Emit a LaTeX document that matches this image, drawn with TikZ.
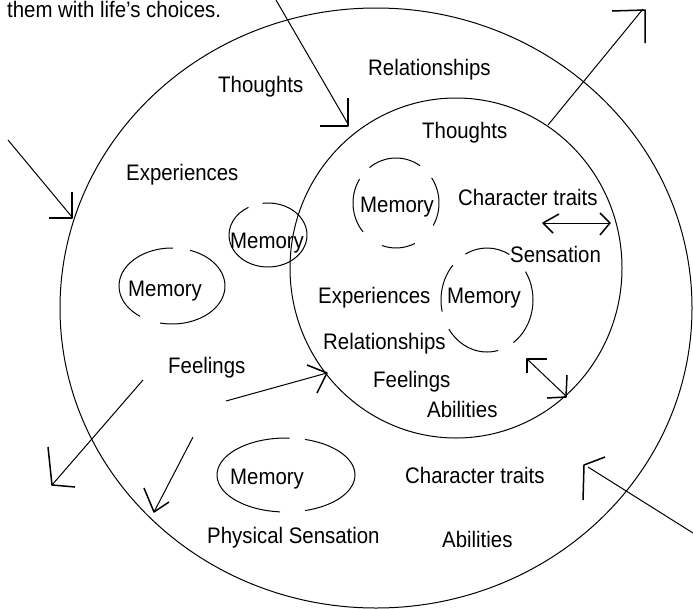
\documentclass[tikz,border=0pt]{standalone}
\usepackage{fontspec}
\setmainfont{Liberation Sans}
\newcommand\lbl[1]{\scalebox{1}[1.1]{#1}}
\begin{document}
\begin{tikzpicture}[x=1pt,y=-1pt,
  line join=round,
  ring/.style={draw=black,line width=1pt},
  memo/.style={draw=black,line width=1pt},
  shaft/.style={draw=black,line width=1pt},
  head/.style={draw=black,line width=1.5pt},
  txt/.style={inner sep=0pt,anchor=base west,font=\fontsize{20.4}{22}\selectfont}]
\useasboundingbox[fill=white] (0,0) rectangle (693,608);

% the two nested rings
\coordinate (outerc) at (376,308);
\coordinate (innerc) at (456,268);
\draw[ring] (outerc) ellipse[x radius=316,y radius=300];
\draw[ring] (innerc) ellipse[x radius=166,y radius=170];

% memory ellipses, drawn as broken arcs
\coordinate (m1) at (268,235);
\draw[memo] (m1) ++(262:39 and 32) arc[start angle=262,end angle=600,x radius=39,y radius=32];
\coordinate (m2) at (172,286);
\draw[memo] (m2) ++(290:53 and 38) arc[start angle=290,end angle=463,x radius=53,y radius=38];
\draw[memo] (m2) ++(127:53 and 38) arc[start angle=127,end angle=271,x radius=53,y radius=38];
\coordinate (m3) at (396,203);
\draw[memo] (m3) ++(232:43 and 45) arc[start angle=232,end angle=304,x radius=43,y radius=45];
\draw[memo] (m3) ++(140:43 and 45) arc[start angle=140,end angle=212,x radius=43,y radius=45];
\draw[memo] (m3) ++(326:43 and 45) arc[start angle=326,end angle=390,x radius=43,y radius=45];
\draw[memo] (m3) ++(64:43 and 45) arc[start angle=64,end angle=109,x radius=43,y radius=45];
\coordinate (m4) at (487,300);
\draw[memo] (m4) ++(242:46 and 52) arc[start angle=242,end angle=299,x radius=46,y radius=52];
\draw[memo] (m4) ++(167:46 and 52) arc[start angle=167,end angle=222,x radius=46,y radius=52];
\draw[memo] (m4) ++(327:46 and 52) arc[start angle=327,end angle=415,x radius=46,y radius=52];
\draw[memo] (m4) ++(76:46 and 52) arc[start angle=76,end angle=146,x radius=46,y radius=52];
\coordinate (m5) at (286,475);
\draw[memo] (m5) ++(286:69 and 37) arc[start angle=286,end angle=434,x radius=69,y radius=37];
\draw[memo] (m5) ++(95:69 and 37) arc[start angle=95,end angle=273,x radius=69,y radius=37];

% labels
\node[txt] (cap)  at (7,17)    {\lbl{them with life's choices.}};
\node[txt] (th1)  at (218,92)  {\lbl{Thoughts}};
\node[txt] (re1)  at (368,75)  {\lbl{Relationships}};
\node[txt] (th2)  at (422,138) {\lbl{Thoughts}};
\node[txt] (ex1)  at (126,180) {\lbl{Experiences}};
\node[txt] (me1)  at (230,248) {\lbl{Memory}};
\node[txt] (me2)  at (128,296) {\lbl{Memory}};
\node[txt] (me3)  at (360,212) {\lbl{Memory}};
\node[txt] (ct1)  at (458,205) {\lbl{Character traits}};
\node[txt] (se1)  at (510,262) {\lbl{Sensation}};
\node[txt] (ex2)  at (318,303) {\lbl{Experiences}};
\node[txt] (me4)  at (447,303) {\lbl{Memory}};
\node[txt] (re2)  at (323,349) {\lbl{Relationships}};
\node[txt] (fe2)  at (373,387) {\lbl{Feelings}};
\node[txt] (ab2)  at (427,417) {\lbl{Abilities}};
\node[txt] (fe1)  at (168,373) {\lbl{Feelings}};
\node[txt] (me5)  at (230,484) {\lbl{Memory}};
\node[txt] (ps1)  at (207,543) {\lbl{Physical Sensation}};
\node[txt] (ct2)  at (405,483) {\lbl{Character traits}};
\node[txt] (ab1)  at (442,547) {\lbl{Abilities}};

% arrow end points
\coordinate (a1s) at (276,0);   \coordinate (a1e) at (348,124);
\coordinate (a2s) at (548,125); \coordinate (a2e) at (643,9);
\coordinate (a3s) at (8,140);   \coordinate (a3e) at (72,217);
\coordinate (a4s) at (143,380); \coordinate (a4e) at (52,485);
\coordinate (a5s) at (193,437); \coordinate (a5e) at (154,512);
\coordinate (a6s) at (226,401); \coordinate (a6e) at (327,373);
\coordinate (a7s) at (527,359); \coordinate (a7e) at (566,396);
\coordinate (a8s) at (693,533); \coordinate (a8e) at (588,467);
\coordinate (a9s) at (543,223); \coordinate (a9e) at (610,223);

% shafts
\draw[shaft] (a1s) -- (a1e);
\draw[shaft] (a2s) -- (a2e);
\draw[shaft] (a3s) -- (a3e);
\draw[shaft] (a4s) -- (a4e);
\draw[shaft] (a5s) -- (a5e);
\draw[shaft] (a6s) -- (a6e);
\draw[shaft] (a7s) -- (a7e);
\draw[shaft] (a8s) -- (a8e);
\draw[shaft] (a9s) -- (a9e);

% open heads, drawn as two strokes each
\draw[head] (320,126) -- (348,126) -- (348,98);
\draw[head] (612,11) -- (645,10) -- (645,43);
\draw[head] (49,218) -- (72,218) -- (72,192);
\draw[head] (48,447) -- (52,485) -- (75,487);
\draw[head] (144,488) -- (154,512) -- (169,502);
\draw[head] (307,365) -- (327,373) -- (317,393);
\draw[head] (547,359) -- (527,359) -- (527,373);
\draw[head] (547,398) -- (566,397) -- (567,375);
\draw[head] (583,500) -- (584,465) -- (605,457);
\draw[head] (559,214) -- (543,223) -- (553,233);
\draw[head] (600,213) -- (610,223) -- (600,235);
\end{tikzpicture}
\end{document}
